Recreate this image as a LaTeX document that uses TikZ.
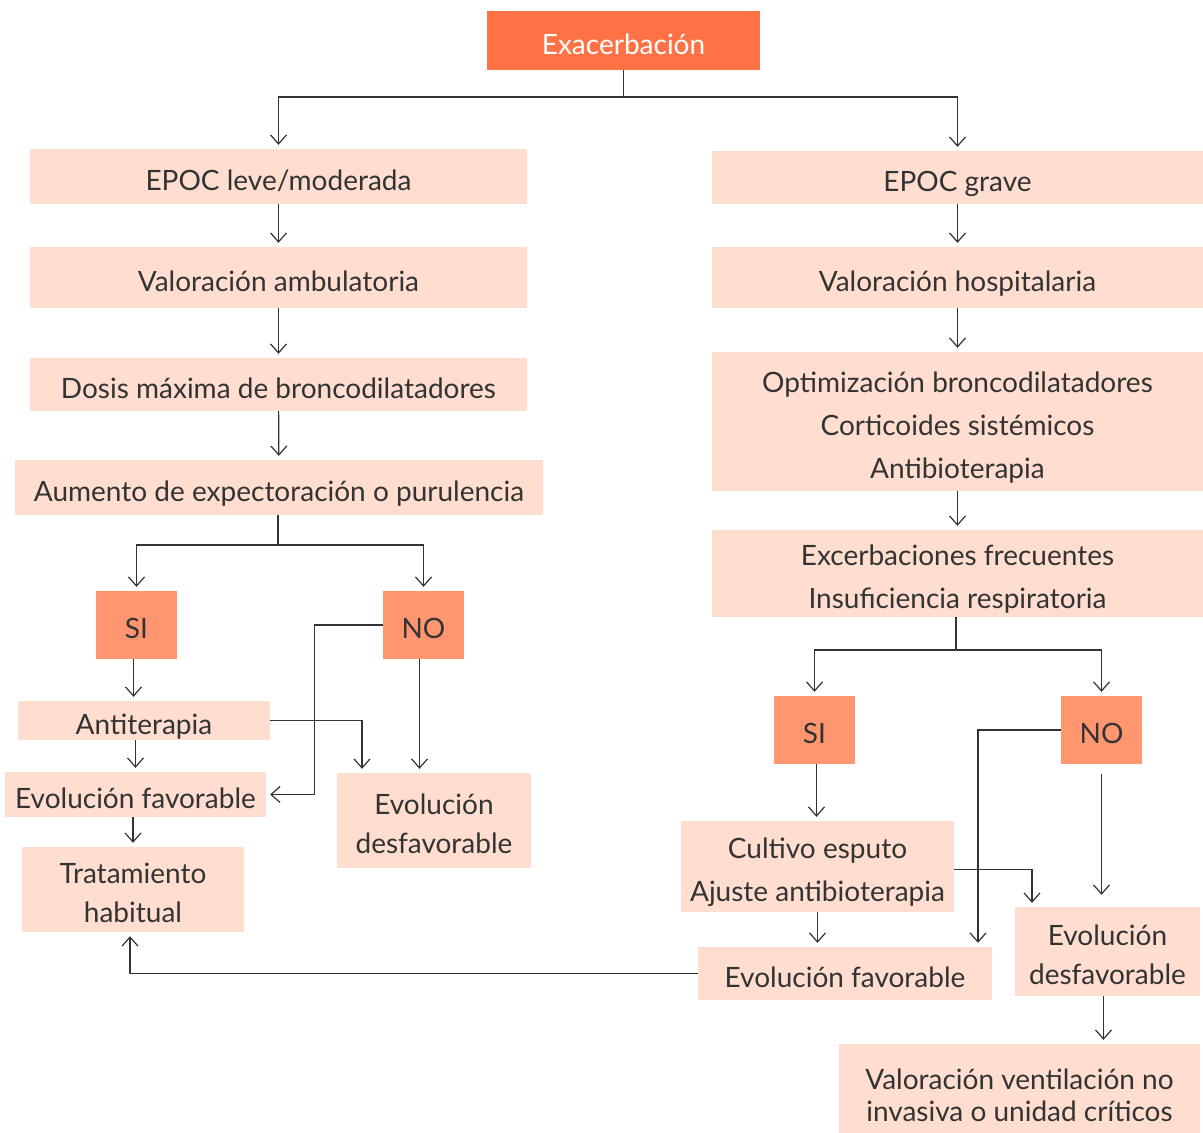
\documentclass[tikz,border=0pt]{standalone}
\usepackage{fontspec}
\setmainfont{Lato}
\usetikzlibrary{arrows.meta}
\usepackage{xcolor}
\definecolor{exacorange}{RGB}{255, 114, 69}
\definecolor{answer}{RGB}{255, 150, 112}
\definecolor{peach}{RGB}{255, 222, 208}
\definecolor{ink}{RGB}{51, 51, 51}
\newcommand{\firstline}[1][33pt]{\rule{0pt}{#1}}

\begin{document}
\begin{tikzpicture}[
        x=1pt, y=-1pt,
        every node/.style={inner sep=0pt, align=center, text=ink,
            font=\fontsize{28}{43}\selectfont,
            execute at begin node={\rule{0pt}{33pt}},
            execute at end node={\rule[-6pt]{0pt}{6pt}}},
        stage/.style={fill=peach},
        answerbox/.style={fill=answer, minimum width=81pt, minimum height=68pt},
        tight/.style={font=\fontsize{28}{39}\selectfont},
        link/.style={draw=ink, line width=1.2pt},
        arr/.style={link, -{Straight Barb[length=9pt,width=16pt]}, shorten >=4pt}
    ]
            \useasboundingbox (0,0) rectangle (1203,1133);

            % left branch
            \node (exac) [
                fill=exacorange,
                text=white,
                minimum width=273pt,
                minimum height=59pt
            ] at (623.5,40.5) {Exacerbación};

            \node (leve) [stage, minimum width=497pt, minimum height=55pt] at (278.5,176.5) {EPOC leve/moderada};
            \node (amb) [stage, minimum width=497pt, minimum height=61pt] at (278.5,277.5) {Valoración ambulatoria};
            \node (dosis) [stage, minimum width=497pt, minimum height=53pt] at (278.5,384.5) {Dosis máxima de broncodilatadores};
            \node (aumento) [stage, minimum width=528pt, minimum height=55pt] at (279,487.5) {Aumento de expectoración o purulencia};

            \node (si1) [answerbox] at (136.5,625) {SI};
            \node (no1) [answerbox] at (423.5,625) {NO};

            \node (anti) [stage, minimum width=252pt, minimum height=39pt] at (144,720.5) {Antiterapia};
            \node (evfav1) [stage, minimum width=261pt, minimum height=45pt] at (135.5,794.5) {Evolución favorable};
            \node (trat) [stage, tight, minimum width=222pt, minimum height=85pt] at (133,889.5) {\firstline Tratamiento\\habitual};
            \node (evdesf1) [stage, tight, minimum width=194pt, minimum height=95pt] at (434,820.5) {\firstline Evolución\\desfavorable};

            % right branch
            \node (grave) [stage, minimum width=491pt, minimum height=53pt] at (957.5,177.5) {EPOC grave};
            \node (hosp) [stage, minimum width=491pt, minimum height=61pt] at (957.5,277.5) {Valoración hospitalaria};
            \node (optim) [stage, minimum width=491pt, minimum height=139pt] at (957.5,421.5)
                {\firstline Optimización broncodilatadores\\Corticoides sistémicos\\Antibioterapia};
            \node (excerb) [stage, minimum width=491pt, minimum height=87pt] at (957.5,573.5)
                {\firstline Excerbaciones frecuentes\\Insuficiencia respiratoria};

            \node (si2) [answerbox] at (814.5,730) {SI};
            \node (no2) [answerbox] at (1101.5,730) {NO};

            \node (cultivo) [stage, minimum width=273pt, minimum height=91pt] at (817.5,866.5)
                {\firstline Cultivo esputo\\Ajuste antibioterapia};
            \node (evfav2) [stage, minimum width=294pt, minimum height=53pt] at (845,973.5) {Evolución favorable};
            \node (evdesf2) [stage, tight, minimum width=185pt, minimum height=89pt] at (1107.5,951.5) {\firstline Evolución\\desfavorable};
            \node (valor) [stage, font=\fontsize{28}{32}\selectfont, minimum width=361pt, minimum height=89pt] at (1019.5,1088.5)
                {\firstline[39pt]Valoración ventilación no\\invasiva o unidad críticos};

            \coordinate (split1) at (623.5,97);
            \coordinate (split2) at (278,545);
            \coordinate (split3) at (956,650);

            \draw[link] (exac) -- (split1);
            \draw[arr] (split1) -| (leve);
            \draw[arr] (split1) -| (grave);

            \draw[arr] (leve) -- (amb);
            \draw[arr] (amb) -- (dosis);
            \draw[arr] (dosis) -- (aumento);
            \draw[link] (split2 |- aumento.south) -- (split2);
            \draw[arr] (split2) -| (si1);
            \draw[arr] (split2) -| (no1);

            \draw[arr] ([xshift=-3pt]si1.south) -- ([xshift=-3pt]si1.south |- anti.north);
            \draw[arr] (evfav1.north |- anti.south) -- (evfav1.north);
            \draw[arr] (trat.north |- evfav1.south) -- (trat.north);
            \draw[arr] (anti.east) -| ([xshift=-72pt]evdesf1.north);
            \draw[arr] (no1.west) -- ++(-68,0) |- (evfav1.east);
            \draw[arr] ([xshift=-4pt]no1.south) -- ([xshift=-4pt]no1.south |- evdesf1.north);

            \draw[arr] (grave) -- (hosp);
            \draw[arr] (hosp) -- (optim);
            \draw[arr] (optim) -- (excerb);
            \draw[link] (split3 |- excerb.south) -- (split3);
            \draw[arr] (split3) -| (si2);
            \draw[arr] (split3) -| (no2);

            \draw[arr] ([xshift=2pt]si2.south) -- ([xshift=2pt]si2.south |- cultivo.north);
            \draw[arr] (cultivo.south) -- (cultivo.south |- evfav2.north);
            \draw[arr] (no2.west) -| ([xshift=133pt]evfav2.north);
            \draw[arr, shorten <=10pt, shorten >=12pt] (no2.south) -- (no2.south |- evdesf2.north);
            \draw[arr] ([yshift=-3pt]cultivo.east) -| ([xshift=-75.5pt]evdesf2.north);
            \draw[arr] ([xshift=-4pt]evdesf2.south) -- ([xshift=-4pt]evdesf2.south |- valor.north);
            \draw[arr] (evfav2.west) -| ([xshift=-3pt]trat.south);
        \end{tikzpicture}
\end{document}
